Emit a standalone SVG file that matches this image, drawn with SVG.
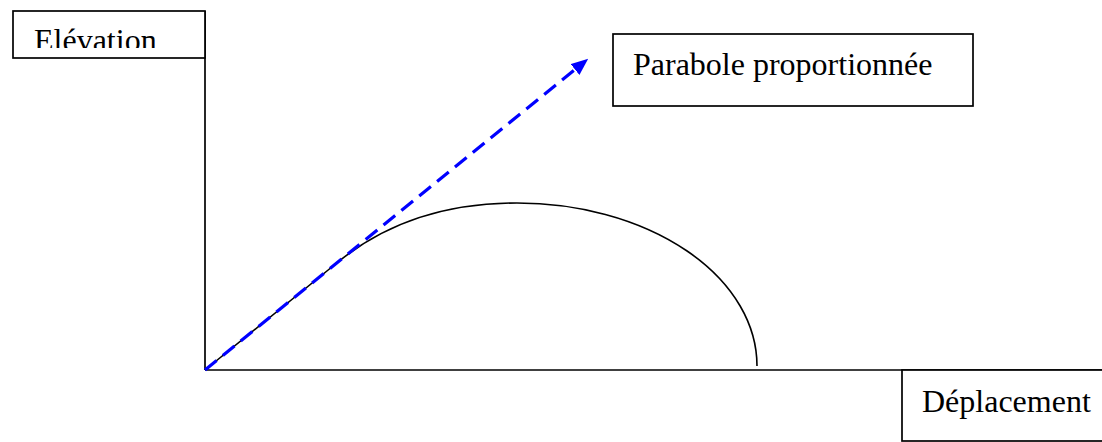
<svg xmlns="http://www.w3.org/2000/svg" width="1102" height="442" viewBox="0 0 1102 442">
  <style>
    .box { fill: #ffffff; stroke: #000000; stroke-width: 1.7; }
    .label { font-family: "Liberation Serif", "Times New Roman", serif; font-size: 32px; fill: #000000; }
    .axis { fill: none; stroke: #000000; stroke-width: 1.7; }
    .curve { fill: none; stroke: #000000; stroke-width: 1.6; }
    .dash { fill: none; stroke: #0000ff; stroke-width: 3.2; stroke-dasharray: 15 8; }
  </style>
  <defs>
    <marker id="arrow" markerUnits="userSpaceOnUse" markerWidth="17" markerHeight="14" refX="0" refY="7" orient="auto">
      <path d="M0,0 L17,7 L0,14 z" fill="#0000ff"/>
    </marker>
    <clipPath id="elevClip">
      <rect x="13" y="11" width="192" height="37"/>
    </clipPath>
  </defs>
  <rect width="1102" height="442" fill="#ffffff"/>

  <g id="axes">
    <line class="axis" x1="205" y1="11" x2="205" y2="370"/>
    <line class="axis" x1="205" y1="370" x2="1102" y2="370"/>
  </g>

  <g id="elevation">
    <rect class="box" x="13" y="11" width="192" height="47"/>
    <text class="label" x="34" y="51" clip-path="url(#elevClip)">Elévation</text>
  </g>

  <g id="parabole">
    <rect class="box" x="613" y="34" width="360" height="72"/>
    <text class="label" x="633" y="75">Parabole proportionnée</text>
  </g>

  <g id="deplacement">
    <rect class="box" x="902" y="370" width="210" height="71"/>
    <text class="label" x="922" y="412">Déplacement</text>
  </g>

  <g id="trajectoire">
    <path class="curve" d="M205,370 L338,262 C392,218 455,203 517,203 A240,163 0 0 1 757,366"/>
  </g>

  <g id="connectors">
    <line class="dash" x1="205" y1="370" x2="575" y2="69.5" marker-end="url(#arrow)"/>
  </g>
</svg>
